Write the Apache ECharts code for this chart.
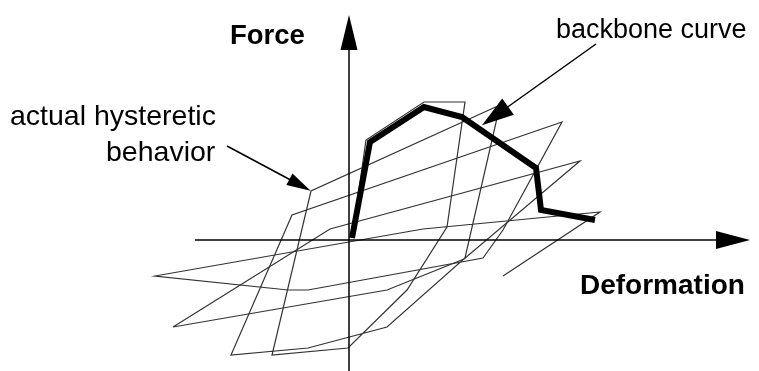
<!DOCTYPE html>
<html>
<head>
<meta charset="utf-8">
<script src="https://cdn.jsdelivr.net/npm/echarts@6/dist/echarts.min.js"></script>
<style>
  html, body { margin: 0; padding: 0; background: #fff; }
  #chart { width: 759px; height: 371px; }
</style>
</head>
<body>
<div id="chart"></div>
<script>
// schematic units: [deformation, force], origin where the two axes cross
const backbone = [[0.3, 0.2], [2.1, 9.8], [7.5, 13.3], [11.3, 12.3], [18.7, 7.2], [19.2, 3.0], [24.6, 2.0]];

const hysteresisPath = [
  [0.3, 0.2], [1.7, 10.0], [7.5, 13.8], [11.6, 13.8], [9.8, 1.3], [5.8, -5.0],
  [-0.1, -10.8], [-7.7, -11.5], [-3.8, 4.9], [15.1, 13.5], [11.6, -1.8],
  [3.8, -8.7], [-4.1, -10.8], [-11.8, -11.5], [-5.7, 2.5], [21.3, 11.8],
  [15.4, 1.0], [13.4, -1.8], [-4.1, -5.0], [-6.1, -5.0], [-19.4, -3.6],
  [7.4, 1.1], [25.1, 2.8], [15.4, -3.6]
];

const innerLoop = [[-17.6, -8.7], [-1.9, 1.1], [23.1, 7.9], [11.5, -1.9], [3.8, -5.0], [-17.6, -8.7]];

const deformationAxis = [[-15.4, 0], [38.4, 0]];
const forceAxis = [[0, -13.1], [0, 20.75]];
const hystereticPointer = [[-12.2, 9.4], [-4.9, 5.5]];
const backbonePointer = [[24.7, 19.6], [14.6, 12.4]];

const labels = {
  force: 'Force',
  deformation: 'Deformation',
  backbone: 'backbone curve',
  hysteretic: ['actual hysteretic', 'behavior'],
};

const FONT = '"Liberation Sans", Arial, sans-serif';

const arrow = (pts, head, width) => [
  { coord: pts[0], symbol: 'none' },
  { coord: pts[1], symbol: 'triangle', symbolSize: head, lineStyle: { width } },
];

const text = (x, y, str, font) => ({
  type: 'text', x, y,
  style: { text: str, font: font + ' ' + FONT, fill: '#000', verticalAlign: 'middle' },
});

const chart = echarts.init(document.getElementById('chart'), null, { renderer: 'canvas' });

chart.setOption({
  animation: false,
  grid: { left: 0, right: 0, top: 0, bottom: 0 },
  xAxis: { type: 'value', min: -34.9, max: 41.0, show: false },
  yAxis: { type: 'value', min: -13.1, max: 24.0, show: false },
  graphic: [
    text(10, 117, labels.hysteretic[0], '28.5px'),
    text(106, 153, labels.hysteretic[1], '28.5px'),
    text(230, 36, labels.force, 'bold 27.5px'),
    text(556, 31, labels.backbone, '27px'),
    text(580, 286, labels.deformation, 'bold 28px'),
  ],
  series: [
    {
      name: 'hysteresis',
      type: 'line',
      data: hysteresisPath,
      symbol: 'none',
      silent: true,
      lineStyle: { color: '#333', width: 1.2, join: 'miter' },
    },
    {
      name: 'inner loop',
      type: 'line',
      data: innerLoop,
      symbol: 'none',
      silent: true,
      lineStyle: { color: '#333', width: 1.2, join: 'miter' },
    },
    {
      name: 'backbone',
      type: 'line',
      data: backbone,
      symbol: 'none',
      silent: true,
      z: 5,
      lineStyle: { color: '#000', width: 6, join: 'miter' },
      markLine: {
        silent: true,
        animation: false,
        label: { show: false },
        emphasis: { disabled: true },
        lineStyle: { color: '#000', type: 'solid', width: 1.5 },
        symbol: ['none', 'triangle'],
        data: [
          arrow(deformationAxis, [18, 34], 1.5),
          arrow(forceAxis, [17, 35], 1.5),
          arrow(hystereticPointer, [13, 24], 1.5),
          arrow(backbonePointer, [20, 32], 1.5),
        ],
      },
    },
  ],
});
</script>
</body>
</html>
